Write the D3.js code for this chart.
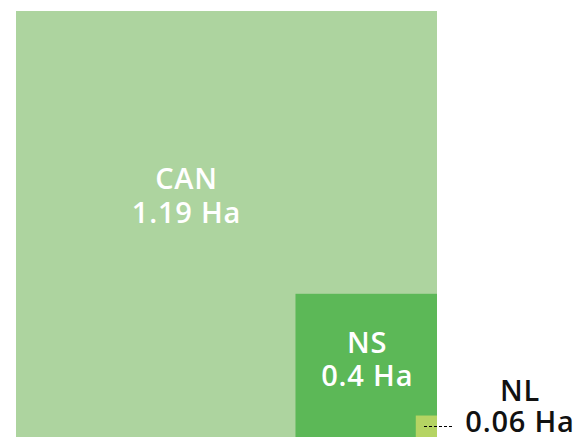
<!DOCTYPE html>
<html><head><meta charset="utf-8">
<script src="https://cdn.jsdelivr.net/npm/d3@7"></script>
<style>html,body{margin:0;padding:0;background:#fff;overflow:hidden}</style>
</head><body>
<svg id="c" width="583" height="437"></svg>
<script>
const categories = ["CAN", "NS", "NL"];
const values = [1.19, 0.4, 0.06];
const units = "Ha";
const colors = ["#add49f", "#5cb857", "#b5d463"];

const svg = d3.select("#c");
const right = 437, bottom = 437;
const sx = d3.scaleLinear().domain([0, d3.max(values)]).range([0, 421]);
const sy = d3.scaleLinear().domain([0, d3.max(values)]).range([0, 426]);
const font = "'Open Sans', sans-serif";
const fs = "29px";

categories.forEach((c, i) => {
  const w = sx(values[i]), h = sy(values[i]);
  svg.append("rect").attr("x", right - w).attr("y", bottom - h)
    .attr("width", w).attr("height", h).attr("fill", colors[i]);
});

function label(x, y1, y2, i, color) {
  const t = svg.append("text").attr("text-anchor", "middle").attr("fill", color)
    .style("font-family", font).style("font-weight", 600).style("font-size", fs)
    .style("letter-spacing", "0.8px");
  t.append("tspan").attr("x", x).attr("y", y1).text(categories[i]);
  t.append("tspan").attr("x", x).attr("y", y2).text(values[i] + " " + units);
}

// CAN label
{
  const w = sx(values[0]), h = sy(values[0]);
  label(right - w + w * 0.405, bottom - h + 178, bottom - h + 212, 0, "#fff");
}
// NS label
{
  const w = sx(values[1]), h = sy(values[1]);
  label(right - w / 2 + 1, bottom - h + 59, bottom - h + 92, 1, "#fff");
}
// NL label (outside)
{
  const h = sy(values[2]);
  const ly = Math.round(bottom - h / 2);
  svg.append("line").attr("x1", right - 13).attr("x2", 452).attr("y1", ly + 0.5).attr("y2", ly + 0.5)
    .attr("stroke", "#000").attr("stroke-width", 1.2).attr("stroke-dasharray", "3,2");
  label(520, 401, 432, 2, "#111");
}
</script>
</body></html>
